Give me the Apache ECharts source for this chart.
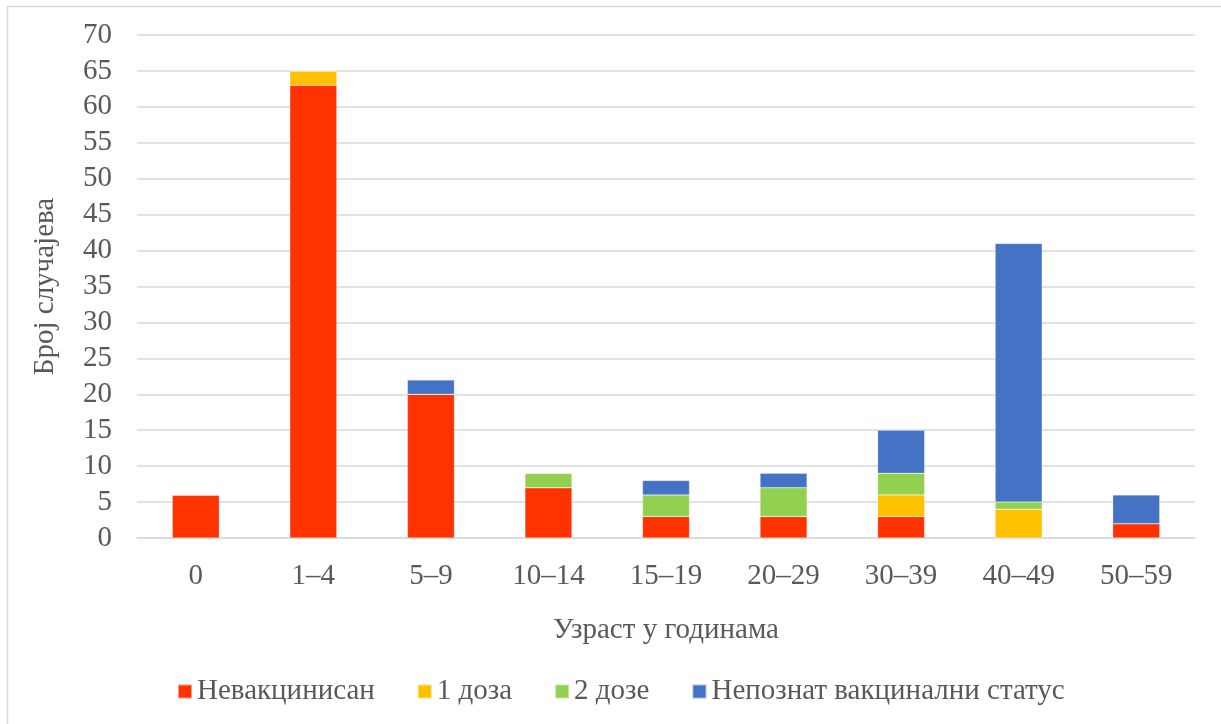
<!DOCTYPE html>
<html><head><meta charset="utf-8">
<script src="https://cdn.jsdelivr.net/npm/echarts@6/dist/echarts.min.js"></script>
<style>html,body{margin:0;padding:0;background:#fff}#c{width:1221px;height:724px}</style>
</head><body><div id="c"></div>
<script>
const categories = ['0','1–4','5–9','10–14','15–19','20–29','30–39','40–49','50–59'];
const seriesNames = ['Невакцинисан','1 доза','2 дозе','Непознат вакцинални статус'];
const unvaccinated = [6,63,20,7,3,3,3,0,2];
const oneDose = [0,2,0,0,0,0,3,4,0];
const twoDoses = [0,0,0,2,3,4,3,1,0];
const unknownStatus = [0,0,2,0,2,2,6,36,4];
const yTicks = {min:0,max:70,interval:5};
const colors = ['#FF3300','#FFC000','#92D050','#4472C4'];
const font = '"Liberation Serif","Times New Roman",serif';
const chart = echarts.init(document.getElementById('c'));
const dataSets = [unvaccinated, oneDose, twoDoses, unknownStatus];
chart.setOption({
  animation:false,
  graphic:[{type:'rect',shape:{x:7.5,y:6.5,width:1300,height:800},style:{fill:'none',stroke:'#d9d9d9',lineWidth:1.5},silent:true}],
  grid:{left:137,right:26,top:35,bottom:186},
  legend:{top:672,left:172,itemWidth:14,itemHeight:14,itemGap:42,icon:'rect',
    textStyle:{fontFamily:font,fontSize:29,color:'#595959'},data:seriesNames},
  xAxis:{type:'category',data:categories,
    axisLine:{lineStyle:{color:'#d9d9d9',width:1.5}},axisTick:{show:false},
    axisLabel:{fontFamily:font,fontSize:29,color:'#595959',margin:24},
    name:'Узраст у годинама',nameLocation:'middle',nameGap:78,
    nameTextStyle:{fontFamily:font,fontSize:29,color:'#595959'}},
  yAxis:{type:'value',min:yTicks.min,max:yTicks.max,interval:yTicks.interval,
    axisLine:{show:false},axisTick:{show:false},
    splitLine:{lineStyle:{color:'#d9d9d9',width:1.5}},
    axisLabel:{fontFamily:font,fontSize:29,color:'#595959',margin:25},
    name:'Број случајева',nameLocation:'middle',nameGap:77,
    nameTextStyle:{fontFamily:font,fontSize:29,color:'#595959'}},
  series: seriesNames.map((n,i)=>({name:n,type:'bar',stack:'total',data:dataSets[i],
    barWidth:'40%',itemStyle:{color:colors[i],borderColor:'rgba(255,255,255,0.5)',borderWidth:0.5}}))
});
</script></body></html>
